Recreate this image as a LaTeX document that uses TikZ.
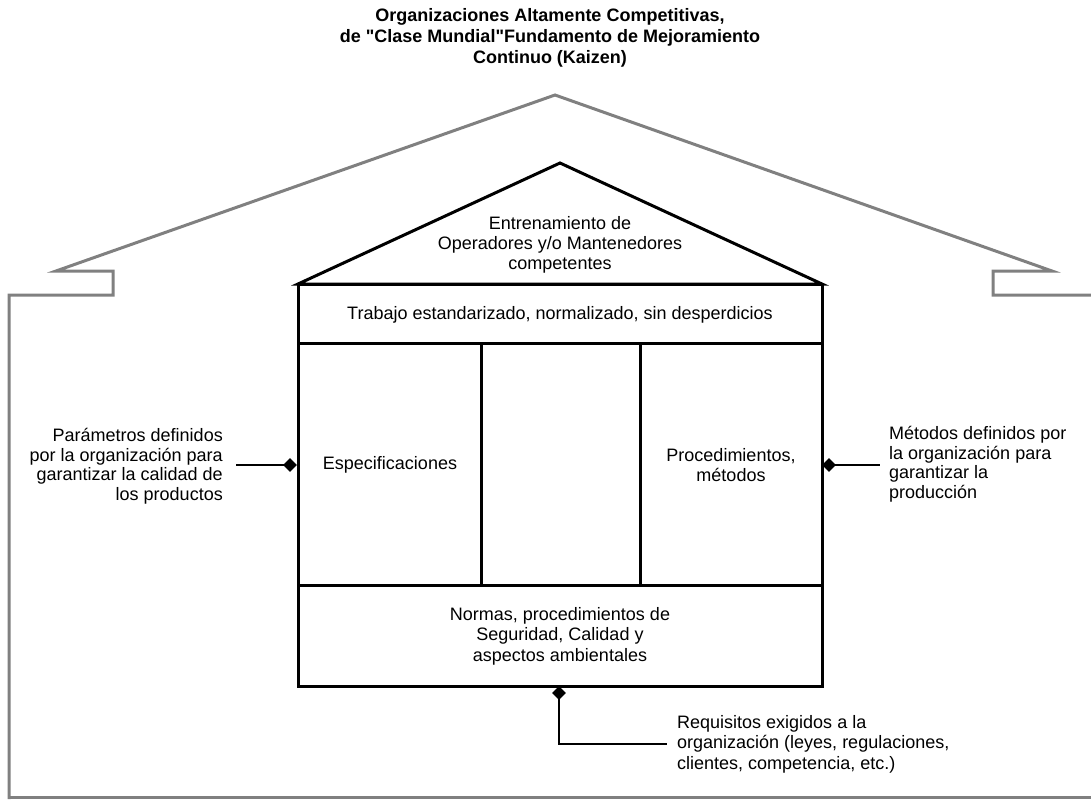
\documentclass[tikz,border=0pt]{standalone}
\usepackage{fontspec}
\setmainfont{Liberation Sans}
\usetikzlibrary{shapes.geometric}
% bold face loaded directly, so that the straight quotes stay straight
\font\titlef="Liberation Sans Bold" at 18pt
\begin{document}
\begin{tikzpicture}[x=1pt,y=-1pt,
  outline/.style={draw=black!50,line width=3pt,line join=miter},
  frame/.style={draw=black,line width=3pt},
  link/.style={draw=black,line width=1.8pt},
  body/.style={font=\fontsize{18}{20.5}\selectfont,align=center,inner sep=0pt},
  note/.style={font=\fontsize{18}{19.5}\selectfont,inner sep=0pt},
  tip/.style={fill=black,draw=none,shape=diamond,minimum width=14pt,minimum height=14pt,inner sep=0pt},
]
\useasboundingbox (0,0) rectangle (1091,800);
% title
\node[font={\titlef\baselineskip=21pt\relax},align=center,inner sep=0pt] (title) at (550,38)
  {Organizaciones Altamente Competitivas,\\de "Clase Mundial"Fundamento de Mejoramiento\\Continuo (Kaizen)};
% outer roof and frame
\coordinate (oapex) at (555,95);
\draw[outline] (9,799) -- (9,295) -- (113,295) -- (113,271) -- (56,271) -- (oapex)
  -- (1052,271) -- (993,271) -- (993,295) -- (1095,295);
\draw[outline] (9,797) -- (1095,797);
% inner house
\coordinate (iapex) at (560,163);
\coordinate (bl) at (298,284);
\coordinate (br) at (822,284);
\draw[frame,line join=miter] (bl) -- (iapex) -- (br) -- cycle;
\draw[frame] (298,284) rectangle (822,686);
\draw[frame] (298,343) -- (822,343);
\draw[frame] (298,585) -- (822,585);
\draw[frame] (481,343) -- (481,585);
\draw[frame] (640,343) -- (640,585);
% texts in the house
\node[body,font=\fontsize{18}{20}\selectfont] (roof) at (560,245) {Entrenamiento de\\Operadores y/o Mantenedores\\competentes};
\node[body] (work) at (560,315) {Trabajo estandarizado, normalizado, sin desperdicios};
\node[body] (spec) at (390,465) {Especificaciones};
\node[body] (proc) at (731,465) {Procedimientos,\\métodos};
\node[body] (norm) at (560,636) {Normas, procedimientos de\\Seguridad, Calidad y\\aspectos ambientales};
% side notes
\node[note,align=right,anchor=east] (lnote) at (223,466)
  {Parámetros definidos\\por la organización para\\garantizar la calidad de\\los productos};
\node[note,align=left,anchor=west] (rnote) at (889,464)
  {Métodos definidos por\\la organización para\\garantizar la\\producción};
\node[note,align=left,anchor=west,font=\fontsize{18}{20.5}\selectfont] (bnote) at (677,744)
  {Requisitos exigidos a la\\organización (leyes, regulaciones,\\clientes, competencia, etc.)};
% connectors with diamond ends
\node[tip] (ld) at (290,465) {};
\node[tip] (rd) at (829,465) {};
\node[tip] (bd) at (559,693) {};
\draw[link] ([xshift=13pt]lnote.east |- ld.center) -- (ld.center);
\draw[link] (rd.center) -- ([xshift=-9pt]rnote.west |- rd.center);
\draw[link] (bd.center) |- ([xshift=-10pt]bnote.west);
\end{tikzpicture}
\end{document}
